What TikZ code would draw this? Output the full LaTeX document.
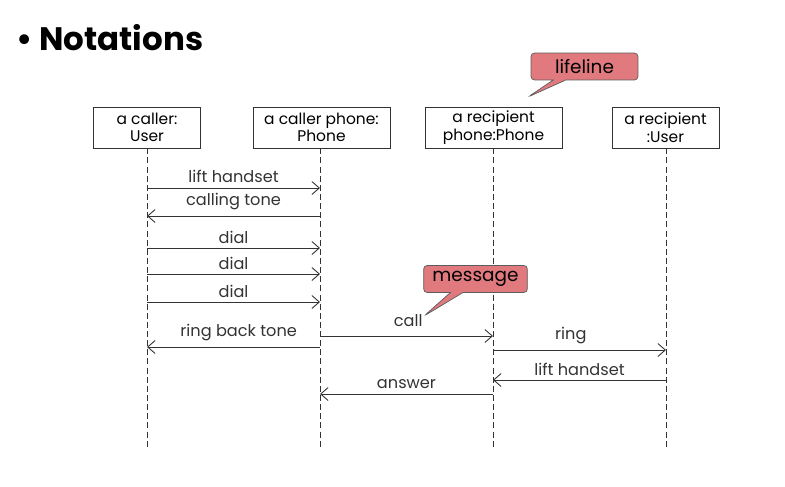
\documentclass[tikz,border=0pt]{standalone}
\usepackage{fontspec}
\setmainfont{Poppins}
\usepackage{tikz}
\usetikzlibrary{positioning,shapes,shapes.callouts,arrows.meta}
\definecolor{ink}{rgb}{0.2,0.2,0.2}
\definecolor{note}{RGB}{224,122,127}

\begin{document}
\begin{tikzpicture}[
  x = 0.02cm,
  y = -0.02cm,
  object/.style = {
    draw = ink,
    rectangle,
    fill = white,
    align = center,
    inner sep = 1pt,
    font = \fontsize{8.8}{10}\selectfont,
    minimum height = 0.82cm,
  },
  life/.style = {ink, dash pattern = on 3.4pt off 1.8pt, line width = 0.5pt},
  msg/.style = {ink, line width = 0.5pt, ->},
  lbl/.style = {font = \fontsize{9.2}{10}\selectfont, inner sep = 1pt},
  remark/.style = {
    rectangle callout,
    draw = ink!80,
    fill = note,
    rounded corners = 2pt,
    font = \fontsize{10.5}{11}\selectfont,
    minimum height = 0.54cm,
    inner xsep = 5pt,
  },
  >={Straight Barb[length=1.5mm,width=2.6mm]},
]
  \useasboundingbox (0,0) rectangle (785,487);

  \node[anchor=west,font=\fontsize{18.5}{22}\bfseries] (title) at (10,38) {\textbullet\ Notations};

  % objects
  \node[object,minimum width=2.14cm] (caller) at (147,127.5) {a caller:\\User};
  \node[object,minimum width=2.74cm] (cphone) at (321.5,127.5) {a caller phone:\\Phone};
  \node[object,minimum width=2.74cm] (rphone) at (493.5,127.5) {a recipient\\phone:Phone};
  \node[object,minimum width=2.14cm] (ruser) at (665.5,127.5) {a recipient\\:User};

  % lifelines
  \coordinate (caller end) at (147,447);
  \coordinate (cphone end) at (320,447);
  \coordinate (rphone end) at (493,447);
  \coordinate (ruser end) at (666,447);
  \draw[life] (caller.south -| caller end) -- (caller end);
  \draw[life] (cphone.south -| cphone end) -- (cphone end);
  \draw[life] (rphone.south -| rphone end) -- (rphone end);
  \draw[life] (ruser.south -| ruser end) -- (ruser end);

  % messages
  \coordinate (m1a) at (147,188); \coordinate (m1b) at (320,188);
  \draw[msg] (m1a) -- node[lbl,above=2pt] {lift handset} (m1b);
  \coordinate (m2a) at (320,216); \coordinate (m2b) at (147,216);
  \draw[msg] (m2a) -- node[lbl,above=2pt] {calling tone} (m2b);
  \coordinate (m3a) at (147,248); \coordinate (m3b) at (320,248);
  \draw[msg] (m3a) -- node[lbl,above=1pt] {dial} (m3b);
  \coordinate (m4a) at (147,274); \coordinate (m4b) at (320,274);
  \draw[msg] (m4a) -- node[lbl,above=1pt] {dial} (m4b);
  \coordinate (m5a) at (147,302); \coordinate (m5b) at (320,302);
  \draw[msg] (m5a) -- node[lbl,above=1pt] {dial} (m5b);
  \coordinate (m6a) at (320,336); \coordinate (m6b) at (493,336);
  \draw[msg] (m6a) -- node[lbl,above=4pt,pos=0.51] (call) {call} (m6b);
  \coordinate (m7a) at (320,347); \coordinate (m7b) at (147,347);
  \draw[msg] (m7a) -- node[lbl,above=2pt,pos=0.47] {ring back tone} (m7b);
  \coordinate (m8a) at (493,350); \coordinate (m8b) at (666,350);
  \draw[msg] (m8a) -- node[lbl,above=2pt,pos=0.45] {ring} (m8b);
  \coordinate (m9a) at (666,380); \coordinate (m9b) at (493,380);
  \draw[msg] (m9a) -- node[lbl,above=1pt] {lift handset} (m9b);
  \coordinate (m10a) at (493,394); \coordinate (m10b) at (320,394);
  \draw[msg] (m10a) -- node[lbl,above=2pt] {answer} (m10b);

  % remarks
  \node[remark,minimum width=2.14cm,callout absolute pointer={(528,97)}] (lifeline) at (584.5,66.5) {lifeline};
  \node[remark,minimum width=1.98cm,callout absolute pointer={(424,316)}] (message) at (475.5,279) {message};
\end{tikzpicture}
\end{document}
